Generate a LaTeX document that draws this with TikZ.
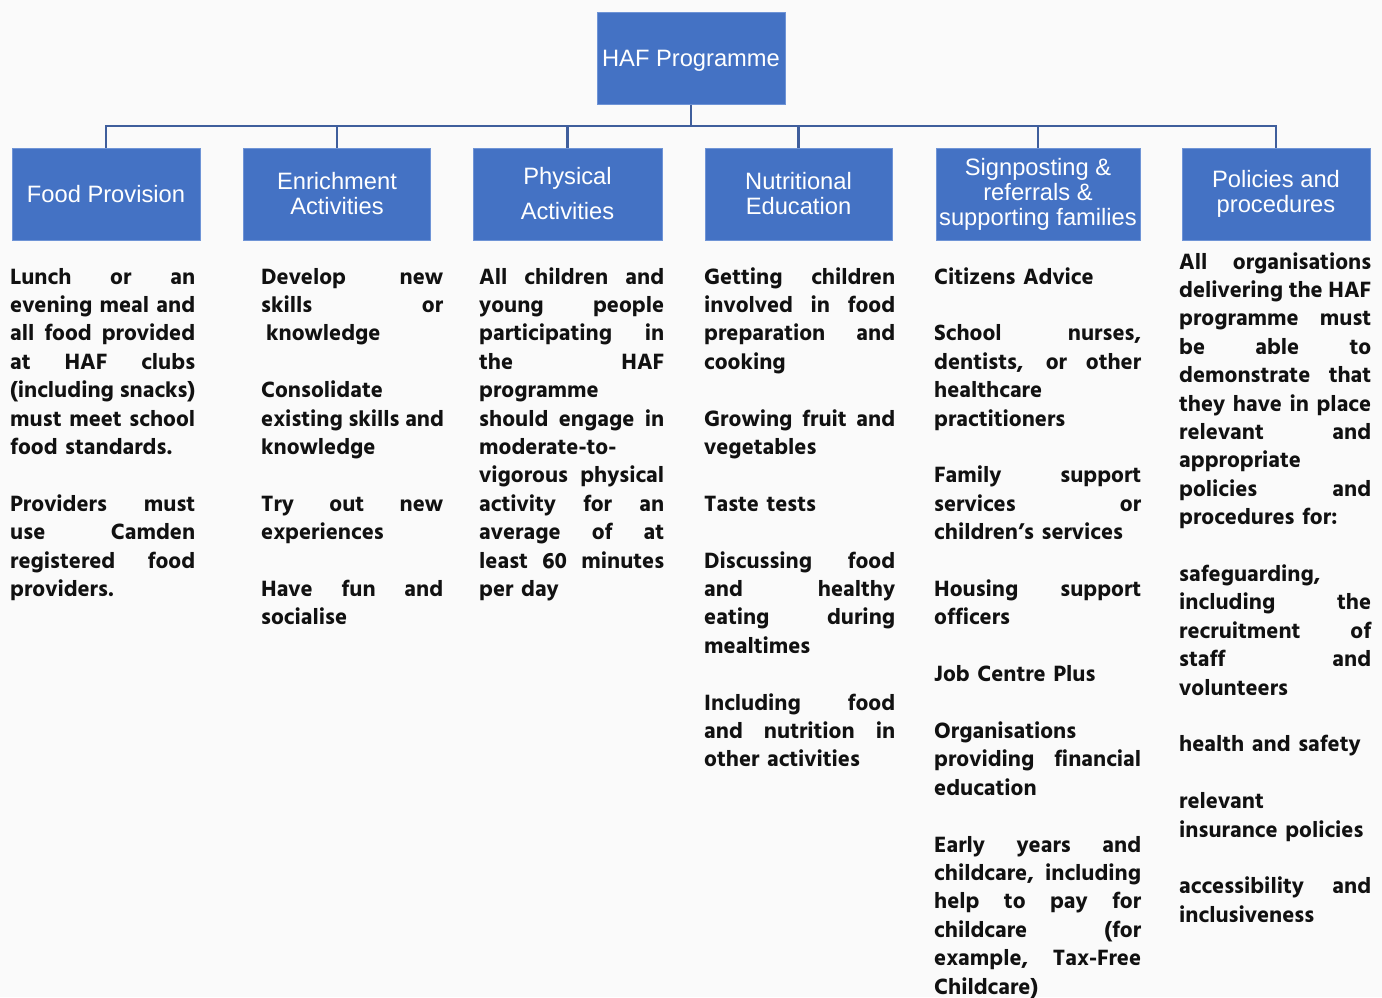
\documentclass[tikz,border=0pt]{standalone}
\usepackage{fontspec}
\setmainfont{Liberation Sans}
\newfontfamily\bodyfont{Hind Siliguri}[BoldFont = * Bold]
\definecolor{boxfill}{HTML}{4472C4}
\definecolor{boxline}{HTML}{6F94D6}
\definecolor{conncol}{HTML}{3F5E9C}
\definecolor{bgcol}{HTML}{FAFAFA}
\definecolor{txt}{HTML}{111111}
\newcommand{\J}[1]{\leavevmode\hbox to \linewidth{\spaceskip=0.25em plus 1fil\relax #1}\\}
\newcommand{\E}{\mbox{}\\}
\tikzset{
  hbox/.style={fill=boxfill, draw=boxline, line width=1pt, text=white, align=center,
    minimum height=92pt, inner sep=0pt, font=\fontsize{23.7}{25}\selectfont},
  conn/.style={draw=conncol, line width=2.5pt},
  body/.style={anchor=base west, inner sep=0pt, align=left, text=txt,
    font=\bodyfont\bfseries\fontsize{22.7}{28.4}\selectfont}
}
\begin{document}
\begin{tikzpicture}[x=1pt,y=-1pt]
\useasboundingbox (0,0) rectangle (1382,997);
\fill[bgcol] (0,0) rectangle (1382,997);

\node[hbox, minimum width=188pt, text depth=0pt] (root) at (691,58) {HAF Programme};
\node[hbox, minimum width=188pt] (food) at (106,194) {Food Provision};
\node[hbox, minimum width=187pt] (enr) at (337,194) {Enrichment\\Activities};
\node[hbox, minimum width=189pt] (phys) at (567.5,194) {Physical\\[10pt]Activities};
\node[hbox, minimum width=187pt] (nutr) at (798.5,194) {Nutritional\\Education};
\node[hbox, minimum width=204pt] (sign) at (1038,194) {Signposting \&\\referrals \&\\supporting families};
\node[hbox, minimum width=188pt] (pol) at (1276,194) {Policies and\\procedures};

\coordinate (bar) at (0,126);
\draw[conn] (root.south) -- (root.south|-bar);
\draw[conn, line join=miter] (food.north) -- (food.north|-bar) -- (pol.north|-bar) -- (pol.north);
\draw[conn] (enr.north) -- (enr.north|-bar);
\draw[conn] (phys.north) -- (phys.north|-bar);
\draw[conn] (nutr.north) -- (nutr.north|-bar);
\draw[conn] (sign.north) -- (sign.north|-bar);

\node[body, text width=185pt] (t1) at (10,284) {%
\J{Lunch or an}
\J{evening meal and}
\J{all food provided}
\J{at HAF clubs}
\J{(including snacks)}
\J{must meet school}
food standards.\\
\E
\J{Providers must}
\J{use Camden}
\J{registered food}
providers.};

\node[body, text width=182pt] (t2) at (261,284) {%
\J{Develop new}
\J{skills or}
\hspace{5pt}knowledge\\
\E
Consolidate\\
\J{existing skills and}
knowledge\\
\E
\J{Try out new}
experiences\\
\E
\J{Have fun and}
socialise};

\node[body, text width=185pt] (t3) at (479,284) {%
\J{All children and}
\J{young people}
\J{participating in}
\J{the HAF}
programme\\
\J{should engage in}
moderate-to-\\
\J{vigorous physical}
\J{activity for an}
\J{average of at}
\J{least 60 minutes}
per day};

\node[body, text width=191pt] (t4) at (704,284) {%
\J{Getting children}
\J{involved in food}
\J{preparation and}
cooking\\
\E
\J{Growing fruit and}
vegetables\\
\E
Taste tests\\
\E
\J{Discussing food}
\J{and healthy}
\J{eating during}
mealtimes\\
\E
\J{Including food}
\J{and nutrition in}
other activities};

\node[body, text width=207pt] (t5) at (934,284) {%
Citizens Advice\\
\E
\J{School nurses,}
\J{dentists, or other}
healthcare\\
practitioners\\
\E
\J{Family support}
\J{services or}
children’s services\\
\E
\J{Housing support}
officers\\
\E
Job Centre Plus\\
\E
Organisations\\
\J{providing financial}
education\\
\E
\J{Early years and}
\J{childcare, including}
\J{help to pay for}
\J{childcare (for}
\J{example, Tax-Free}
Childcare)};

\node[body, text width=192pt] (t6) at (1179,269) {%
\J{All organisations}
\J{delivering the HAF}
\J{programme must}
\J{be able to}
\J{demonstrate that}
\J{they have in place}
\J{relevant and}
appropriate\\
\J{policies and}
procedures for:\\
\E
safeguarding,\\
\J{including the}
\J{recruitment of}
\J{staff and}
volunteers\\
\E
health and safety\\
\E
relevant\\
insurance policies\\
\E
\J{accessibility and}
inclusiveness};
\end{tikzpicture}
\end{document}
